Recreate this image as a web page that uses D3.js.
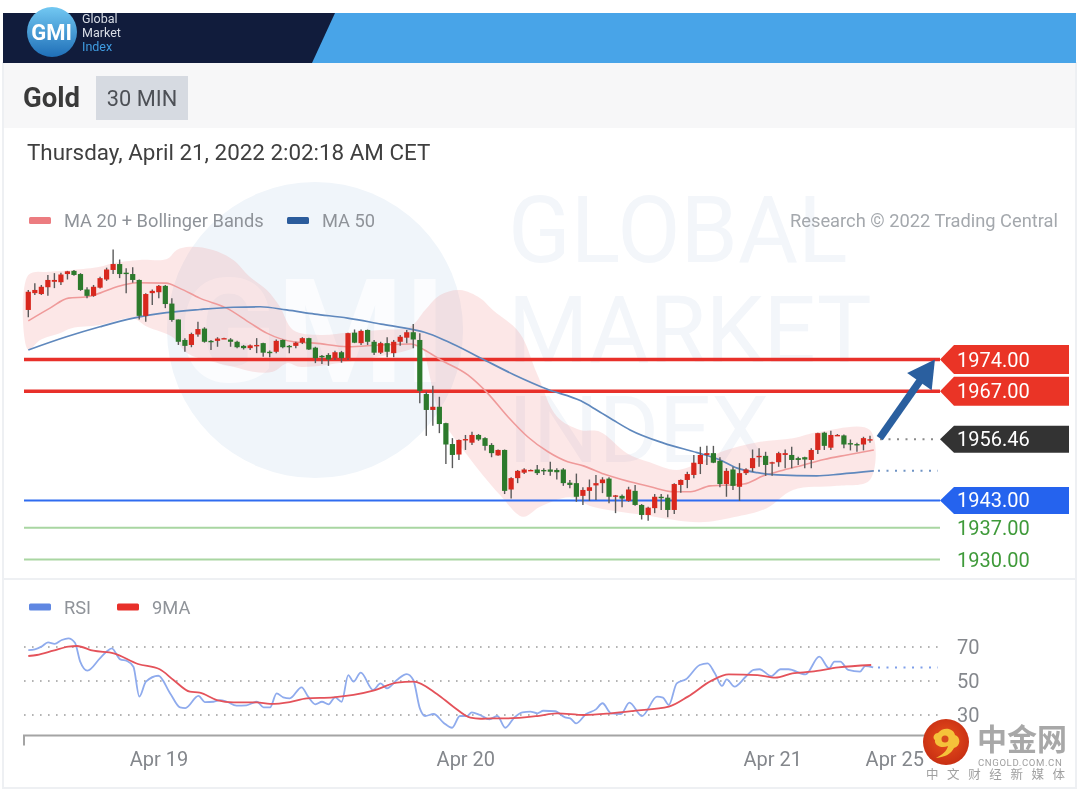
<!DOCTYPE html>
<html><head><meta charset="utf-8">
<script src="https://cdn.jsdelivr.net/npm/d3@7/dist/d3.min.js"></script>
<style>
html,body{margin:0;padding:0;background:#fff;}
svg{display:block;filter:blur(0.6px);font-family:Roboto,"Liberation Sans",sans-serif;}
</style></head><body>
<svg id="c" width="1080" height="792"></svg>
<script>
// ---------- data ----------
const title="Gold", frame="30 MIN", stamp="Thursday, April 21, 2022 2:02:18 AM CET";
const opens=[1984.9,1988.6,1988.4,1989.9,1991.1,1991.0,1992.8,1993.5,1992.8,1989.4,
1988.0,1989.8,1991.6,1993.7,1995.0,1993.1,1992.8,1991.5,1983.6,1988.6,
1988.8,1990.2,1986.3,1982.8,1978.3,1977.2,1979.5,1980.8,1978.1,1978.1,
1978.7,1978.4,1977.9,1977.0,1976.5,1977.2,1977.6,1975.7,1975.7,1978.3,
1977.0,1977.0,1977.7,1978.7,1976.6,1974.8,1975.0,1974.3,1975.6,1974.3,
1979.9,1977.6,1980.5,1977.9,1975.5,1977.6,1975.4,1977.9,1978.8,1980.0,
1978.3,1966.4,1962.9,1963.6,1960.0,1955.4,1953.1,1956.4,1955.7,1957.4,
1956.7,1955.2,1952.9,1954.1,1945.4,1947.9,1949.1,1949.7,1949.8,1949.7,
1949.8,1949.7,1949.8,1946.9,1946.8,1944.0,1945.1,1946.3,1946.8,1947.8,
1944.0,1944.0,1942.9,1945.1,1942.0,1939.8,1941.3,1943.8,1943.6,1940.9,
1946.4,1947.5,1948.6,1951.0,1953.0,1953.4,1951.7,1946.6,1949.8,1946.0,
1949.0,1950.1,1952.5,1952.8,1951.3,1951.4,1953.0,1953.0,1952.3,1952.5,
1951.9,1954.1,1957.9,1954.6,1957.4,1957.3,1955.6,1955.4,1955.3,1956.4];
const highs=[1989.3,1990.8,1990.4,1992.6,1993.0,1993.1,1993.5,1993.7,1993.0,1989.9,
1990.4,1992.2,1994.2,1998.2,1996.0,1994.1,1994.3,1991.6,1988.6,1989.4,
1990.4,1990.4,1987.5,1982.8,1978.7,1979.9,1982.3,1981.1,1978.3,1978.9,
1978.8,1978.7,1978.1,1977.2,1977.3,1978.7,1977.7,1976.0,1978.4,1978.4,
1977.2,1977.9,1978.9,1978.8,1976.8,1975.0,1975.4,1975.9,1975.9,1979.9,
1980.6,1980.6,1980.6,1978.3,1977.9,1978.9,1978.3,1979.4,1980.5,1981.8,
1979.8,1966.9,1968.2,1965.8,1960.1,1956.7,1956.4,1957.4,1958.1,1957.6,
1956.9,1955.6,1954.2,1954.2,1948.1,1949.7,1950.1,1949.8,1950.8,1950.1,
1951.5,1950.1,1950.1,1947.5,1948.9,1945.9,1947.6,1948.6,1948.1,1948.1,
1944.2,1944.3,1946.0,1946.4,1942.2,1941.6,1944.4,1944.4,1944.3,1946.8,
1947.6,1949.3,1953.0,1954.8,1955.0,1955.0,1952.5,1950.1,1950.4,1951.2,
1950.1,1954.2,1954.5,1953.7,1951.5,1953.7,1954.2,1954.8,1952.6,1952.6,
1954.5,1957.9,1958.1,1958.3,1957.6,1957.5,1956.4,1955.7,1957.0,1957.2];
const lows=[1983.3,1988.2,1988.2,1988.0,1989.7,1990.4,1991.6,1992.4,1989.1,1987.5,
1987.8,1989.6,1991.3,1992.8,1991.9,1988.6,1990.9,1982.8,1982.3,1986.0,
1987.5,1985.3,1982.3,1977.2,1975.7,1976.7,1979.0,1977.7,1976.1,1976.8,
1978.6,1976.8,1976.5,1976.2,1976.1,1975.4,1974.6,1974.5,1975.4,1976.5,
1975.4,1976.5,1977.4,1976.1,1973.2,1973.0,1972.6,1973.9,1973.3,1973.9,
1977.6,1977.2,1977.2,1975.0,1975.2,1974.5,1974.5,1977.0,1977.6,1976.5,
1964.4,1957.2,1959.4,1957.8,1951.0,1950.1,1951.9,1954.1,1955.2,1956.1,
1954.0,1952.5,1952.8,1944.4,1943.4,1946.8,1948.8,1949.6,1948.6,1948.6,
1948.4,1947.6,1946.2,1945.7,1942.7,1942.0,1942.9,1943.1,1944.6,1942.4,
1940.2,1941.5,1942.7,1941.8,1938.8,1938.5,1940.2,1940.9,1939.3,1940.0,
1944.7,1945.7,1947.9,1948.8,1950.8,1951.2,1945.9,1943.8,1945.3,1942.9,
1948.6,1949.3,1950.4,1948.4,1948.4,1950.4,1950.1,1950.1,1950.8,1950.1,
1950.1,1953.2,1954.1,1954.1,1957.2,1954.5,1954.0,1953.7,1954.0,1955.7];
const closes=[1988.9,1989.3,1990.0,1991.5,1991.5,1992.7,1993.4,1992.6,1989.3,1988.0,
1990.0,1991.9,1993.8,1995.0,1992.8,1993.0,1991.5,1983.6,1988.4,1989.1,
1990.2,1986.2,1982.7,1977.9,1977.0,1979.6,1980.7,1977.9,1977.9,1978.6,
1978.7,1977.9,1976.7,1976.5,1977.1,1977.2,1975.5,1975.4,1978.1,1976.7,
1976.9,1977.7,1978.7,1976.2,1974.3,1974.5,1974.0,1975.6,1974.3,1979.8,
1977.7,1980.3,1977.9,1975.5,1977.6,1975.7,1977.9,1979.0,1980.0,1978.4,
1967.1,1962.9,1963.6,1959.8,1955.3,1953.0,1956.3,1956.5,1957.4,1956.4,
1955.0,1953.4,1954.1,1945.1,1947.9,1949.5,1949.8,1949.7,1949.0,1949.6,
1949.3,1949.2,1946.8,1946.4,1943.8,1945.3,1945.9,1946.8,1947.6,1943.8,
1944.1,1943.4,1945.4,1942.0,1939.8,1941.4,1943.8,1943.6,1940.9,1946.6,
1947.5,1948.8,1951.3,1953.0,1953.4,1951.3,1946.6,1949.5,1946.2,1949.0,
1949.8,1952.3,1952.8,1950.8,1951.4,1953.4,1953.4,1951.9,1951.9,1952.0,
1954.1,1957.8,1955.0,1957.4,1957.4,1955.3,1955.5,1955.3,1956.7,1956.46];

const ma20Idx=[0,3.3,6.1,8.9,10.9,13.5,16.5,21,23,26.1,30.2,33.8,36.3,40.4,43.6,48.6,53.7,58.3,60.3,62.8,66.9,69.9,73,76,79.1,82.1,84.5,87.6,91.6,94.7,98.2,100.8,103.8,106.8,108.9,111.9,115,118,121.1,124.6,128.7];
const ma20Val=[1982.5,1985.3,1987.5,1987.8,1988.6,1990.0,1990.9,1990.8,1989.7,1987.5,1985.3,1982.0,1979.8,1977.9,1977.6,1976.8,1977.2,1977.4,1976.1,1973.9,1970.6,1966.6,1961.4,1957.0,1953.7,1951.5,1950.6,1948.8,1947.1,1946.0,1944.9,1944.9,1946.2,1946.4,1946.6,1948.4,1949.7,1950.8,1952.0,1953.0,1954.1];
const ma50Idx=[0,5.8,10.9,16,21,26.1,31.2,35.3,39.3,43.6,48.6,53.7,58.8,60.3,63.9,68.9,74,79.1,84.1,86.5,89,91.6,96.7,101.8,105.3,107.9,111,114,120,123.6,128.7];
const ma50Val=[1976.1,1979.0,1981.2,1983.1,1984.3,1985.0,1985.5,1985.6,1984.9,1984.0,1983.1,1981.8,1980.5,1980.0,1977.9,1974.3,1970.6,1967.4,1964.9,1962.9,1960.7,1958.5,1955.6,1953.5,1951.9,1950.1,1949.1,1948.6,1948.4,1948.8,1949.5];
const upperIdx=[0,3.3,6.8,10.9,12.9,17,21.1,22.6,24.6,28.1,31.2,33.7,36.3,38.3,40.3,44.4,49,53.5,58.1,60.4,62.7,65.7,68.8,70.7,74.8,77.4,80.5,84,87,91.1,94.6,98.7,102.2,105.3,111.4,116.4,120.5,128.1];
const upperVal=[1992.6,1993.3,1993.7,1994.4,1995.2,1995.9,1996.1,1998.1,1998.8,1998.1,1995.9,1992.2,1989.3,1985.6,1980.5,1979.4,1980.0,1980.5,1981.2,1984.9,1988.2,1989.3,1987.5,1984.9,1979.8,1971.0,1961.4,1958.5,1958.1,1953.4,1951.4,1949.7,1951.4,1953.6,1955.9,1956.7,1958.1,1958.5];
const lowerIdx=[0,1.8,4.8,6.6,10.9,15.9,18.1,22,24.2,28.1,31.2,34.2,37.2,39.4,41.3,48.5,58.6,59.6,62.7,66.8,71.8,75.3,77.9,82.5,85.9,93.6,102.2,107.3,112.4,116.4,123.1,128.1];
const lowerVal=[1976.1,1978.3,1979.8,1980.9,1981.6,1983.1,1981.2,1978.9,1975.4,1973.5,1972.4,1971.3,1971.3,1973.2,1972.4,1973.5,1976.5,1977.6,1961.8,1953.0,1944.2,1939.4,1941.6,1943.7,1941.6,1939.8,1938.2,1939.3,1941.3,1945.3,1946.2,1947.5];

const rsiIdx=[0,1,2,3,4,5.1,6.1,7.1,7.9,9,10.9,11.9,12.7,14,15,16,16.9,17.9,19.8,21.6,23.1,23.9,25.9,26.9,28.2,29.2,30.2,31.7,33.2,34.8,35.8,36.8,37.8,38.8,39.8,41.6,42.6,43.7,44.7,45.7,46.7,47.7,48.7,49.5,50.6,52.5,53.6,54.6,56.1,57.6,58.6,59.6,60.4,61.7,63.2,64.5,65.7,66.8,67.5,68.75,70.2,71.4,72.6,74,75.2,76.4,77.5,78.4,80.2,81.7,82.5,83.4,84.9,86.4,87.4,88.7,90.2,91.5,93.4,95.7,96.6,97.5,98.7,100.1,102.2,103.4,104.5,105.6,106.3,107.5,109.2,110.4,111.3,113.1,114.5,115.7,118.3,120.4,121.9,122.7,123.6,124.8,126.6,127.4,128.6];
const rsiVal=[68.2,68.6,70.2,72.7,71.8,74.1,75.1,72.5,61.4,56.1,63.3,67.2,69.2,62.7,61.8,58.4,40.8,49.6,53.1,42.7,34.5,34.1,41.2,37.6,37.8,38.8,37.8,35.5,35.7,37.8,34.5,34.5,42.7,40.4,39.8,46.3,40.8,36.3,37.8,36.3,40.4,37.8,53.5,49.6,54.9,44.7,48.6,45.7,50.6,54.1,50.6,33.9,29.4,30.6,25.5,22.5,29.4,29.4,31.6,30.0,27.5,29.4,22.5,28.6,31.6,32.0,31.0,32.5,32.2,28.6,28.0,25.1,30.6,33.3,36.9,31.0,30.6,37.3,29.4,40.8,40.2,35.9,48.6,51.0,59.4,60.4,54.5,47.1,51.0,46.7,52.5,56.5,56.9,52.9,56.9,56.9,53.9,64.3,57.5,61.4,61.4,56.5,55.5,58.8,58.0];
const ma9Idx=[0,1.3,3.8,6.1,7.4,9.9,13,16.7,20,22.1,24.6,26.1,28.7,31.2,34.8,36.8,39.8,42.4,46.4,49.5,52.5,56.1,58.6,62.2,64.7,67.3,68.8,70.5,72.9,77.5,80.5,84.6,88.7,92.2,97.5,100.4,104,106.6,111,113.7,116.3,119.2,123.3,128.3];
const ma9Val=[64.7,65.3,67.8,70.2,70.6,67.8,66.3,60.0,56.9,50.6,43.7,43.1,38.8,37.4,37.4,36.5,37.6,39.8,40.4,41.8,44.3,49.0,49.6,42.4,34.9,28.4,27.8,28.0,28.0,29.4,31.0,30.0,31.0,32.4,34.9,40.8,50.2,53.9,53.5,52.0,54.5,55.5,58.0,59.4];

const levelsRed=[1974,1967], levelBlue=[1943], levelsGreen=[1937,1930], lastPrice=1956.46, lastMa50=1949.5, lastRsi=58;
const rsiTicks=[70,50,30];
const dateLabels=["Apr 19","Apr 20","Apr 21","Apr 25"], dateIdx=[19.9,66.6,113.3,131.9];
const arrowFrom=[129.6,1956.7], arrowTo=[138,1974];

// ---------- scales ----------
const svg=d3.select("#c");
const x=d3.scaleLinear().domain([0,129]).range([28.3,875.8]);   // overlays, read against the time axis
const xc=d3.scaleLinear().domain([0,129]).range([28.3,870]);    // candle slots
const y=d3.scaleLinear().domain([1930,1974]).range([559.5,359.5]);
const r=d3.scaleLinear().domain([30,70]).range([715,647]);
const xEnd=940, xStart=24;
const GREY="#8f9399";

// ---------- frame ----------
svg.append("rect").attr("x",3).attr("y",63).attr("width",1073).attr("height",725).attr("fill","#fff").attr("stroke","#eef0f3").attr("stroke-width",2);
svg.append("rect").attr("x",3).attr("y",13).attr("width",1073).attr("height",50).attr("fill","#48a4e8");
svg.append("path").attr("d","M3,13H335L312,63H3Z").attr("fill","#111c3c");
svg.append("rect").attr("x",4).attr("y",63).attr("width",1071).attr("height",65).attr("fill","#f7f7f8");
svg.append("rect").attr("x",96).attr("y",76).attr("width",92).attr("height",44).attr("fill","#d6dae1");
svg.append("text").attr("x",23).attr("y",107).attr("font-size",27.5).attr("font-weight",700).attr("fill","#3a3a3a").text(title);
svg.append("text").attr("x",142).attr("y",105.5).attr("text-anchor","middle").attr("font-size",21.8).attr("fill","#4d5056").text(frame);
svg.append("text").attr("x",27).attr("y",160).attr("font-size",22.4).attr("fill","#3f3f3f").text(stamp);
svg.append("rect").attr("x",4).attr("y",578).attr("width",1071).attr("height",2).attr("fill","#eef0f3");

// logo
const defs=svg.append("defs");
const lg=defs.append("linearGradient").attr("id","gmi").attr("x1",0).attr("y1",0).attr("x2",0).attr("y2",1);
lg.append("stop").attr("offset",0).attr("stop-color","#72c8f2");
lg.append("stop").attr("offset",1).attr("stop-color","#1f6fb8");
svg.append("circle").attr("cx",52).attr("cy",32).attr("r",25).attr("fill","url(#gmi)");
svg.append("text").attr("x",51.5).attr("y",39.5).attr("text-anchor","middle").attr("font-size",22).attr("font-weight",700).attr("fill","#fff").text("GMI");
[["Global",23,"#d8dde6"],["Market",37,"#d8dde6"],["Index",51,"#3f9be0"]].forEach(d=>
  svg.append("text").attr("x",82).attr("y",d[1]).attr("font-size",12.5).attr("fill",d[2]).text(d[0]));

// watermark
svg.append("circle").attr("cx",315).attr("cy",330).attr("r",148).attr("fill","#f0f5fa");
svg.append("text").attr("x",312).attr("y",382).attr("text-anchor","middle").attr("font-size",145).attr("font-weight",700).attr("fill","#fbfcfe").text("GMI");
[["GLOBAL",262],["MARKET",362],["INDEX",462]].forEach(d=>
  svg.append("text").attr("x",508).attr("y",d[1]).attr("font-size",92).attr("fill","#f3f6fa").text(d[0]));

// legends
function legend(px,py,col,label,tx){
  svg.append("rect").attr("x",px).attr("y",py-3.5).attr("width",22).attr("height",7).attr("rx",1.5).attr("fill",col);
  svg.append("text").attr("x",tx).attr("y",py+6.5).attr("font-size",18.3).attr("fill",GREY).text(label);
}
legend(29,220.5,"#ec7c80","MA 20 + Bollinger Bands",64);
legend(287,220.5,"#2b5c9c","MA 50",322);
svg.append("text").attr("x",1058).attr("y",227).attr("text-anchor","end").attr("font-size",18.3).attr("fill","#a4a8ad").text("Research © 2022 Trading Central");
legend(29,607,"#5f87e2","RSI",64);
legend(117,607,"#e8302a","9MA",152);

// bands
const bandPts=upperIdx.map((d,i)=>[x(d),y(upperVal[i])]).concat(lowerIdx.map((d,i)=>[x(d),y(lowerVal[i])]).reverse());
svg.append("path").attr("d",d3.line().curve(d3.curveCatmullRomClosed.alpha(.5))(bandPts)).attr("fill","#ee8080").attr("fill-opacity",.19);

const lineP=(xs,ys,sy)=>d3.line().curve(d3.curveMonotoneX)(xs.map((d,i)=>[x(d),sy(ys[i])]));

// level lines (under candles)
levelsRed.forEach(v=>svg.append("line").attr("x1",xStart).attr("x2",xEnd).attr("y1",y(v)).attr("y2",y(v)).attr("stroke","#e8302a").attr("stroke-width",3.4));
levelBlue.forEach(v=>svg.append("line").attr("x1",xStart).attr("x2",xEnd).attr("y1",y(v)).attr("y2",y(v)).attr("stroke","#2f6cf0").attr("stroke-width",2));
levelsGreen.forEach(v=>svg.append("line").attr("x1",xStart).attr("x2",xEnd).attr("y1",y(v)).attr("y2",y(v)).attr("stroke","#a9d6a2").attr("stroke-width",2));

// MA lines
svg.append("path").attr("d",lineP(ma20Idx,ma20Val,y)).attr("fill","none").attr("stroke","#ef9a9a").attr("stroke-width",1.6);
svg.append("path").attr("d",lineP(ma50Idx,ma50Val,y)).attr("fill","none").attr("stroke","#5f88bd").attr("stroke-width",1.7);

// candles
const idx=d3.range(opens.length);
svg.append("g").selectAll("line").data(idx).join("line")
  .attr("x1",i=>xc(i)).attr("x2",i=>xc(i)).attr("y1",i=>y(highs[i])).attr("y2",i=>y(lows[i]))
  .attr("stroke","#5a5a5a").attr("stroke-width",1.4);
svg.append("g").selectAll("rect").data(idx).join("rect")
  .attr("x",i=>xc(i)-2.6).attr("width",5.2)
  .attr("y",i=>y(Math.max(opens[i],closes[i])))
  .attr("height",i=>Math.max(1.4,Math.abs(y(opens[i])-y(closes[i]))))
  .attr("fill",i=>closes[i]>=opens[i]?"#d8281e":"#2c7a2c");

// dotted extensions
function dots(v,sy,col,from,dash){
  svg.append("line").attr("x1",from).attr("x2",xEnd-2).attr("y1",sy(v)).attr("y2",sy(v))
    .attr("stroke",col).attr("stroke-width",2).attr("stroke-dasharray",dash).attr("stroke-linecap","butt");
}
dots(lastPrice,y,"#8a8a8a",880,"2 6.5");
dots(lastMa50,y,"#6f93c4",878,"2 6.5");

// arrow
const ax0=x(arrowFrom[0]),ay0=y(arrowFrom[1]),ax1=x(arrowTo[0]),ay1=y(arrowTo[1]);
const ang=Math.atan2(ay1-ay0,ax1-ax0),len=Math.hypot(ax1-ax0,ay1-ay0);
const ag=svg.append("g").attr("transform",`translate(${ax0},${ay0}) rotate(${ang*180/Math.PI})`);
ag.append("line").attr("x1",0).attr("x2",len-20).attr("y1",0).attr("y2",0).attr("stroke","#2a5f9f").attr("stroke-width",7.5);
ag.append("path").attr("d",`M${len},0L${len-27},-15L${len-27},15Z`).attr("fill","#2a5f9f");

// tags
function tag(v,col,h){
  const c=y(v),t=c-h/2,b=c+h/2;
  svg.append("path").attr("d",`M${xEnd},${c}L${xEnd+14},${t}H1069V${b}H${xEnd+14}Z`).attr("fill",col);
  svg.append("text").attr("x",957).attr("y",c+7).attr("font-size",20).attr("fill","#fff").text(v.toFixed(2));
}
levelsRed.forEach(v=>tag(v,"#ea3426",29));
tag(lastPrice,"#333333",27);
levelBlue.forEach(v=>tag(v,"#2563ee",27));
levelsGreen.forEach(v=>svg.append("text").attr("x",957).attr("y",y(v)+7).attr("font-size",20).attr("fill","#3f9a3a").text(v.toFixed(2)));

// RSI pane
rsiTicks.forEach(v=>{
  svg.append("line").attr("x1",xStart).attr("x2",xEnd).attr("y1",r(v)).attr("y2",r(v)).attr("stroke","#b4b4b4").attr("stroke-width",1.8).attr("stroke-dasharray","1.6 6.4");
  svg.append("text").attr("x",957).attr("y",r(v)+7).attr("font-size",20).attr("fill","#85888d").text(v);
});
dots(lastRsi,r,"#7f9fea",878,"2 6.5");
svg.append("path").attr("d",lineP(rsiIdx,rsiVal,r)).attr("fill","none").attr("stroke","#8fabed").attr("stroke-width",1.8);
svg.append("path").attr("d",lineP(ma9Idx,ma9Val,r)).attr("fill","none").attr("stroke","#e4525a").attr("stroke-width",1.8);

// time axis
const axisG=svg.append("g").attr("transform","translate(0,735.5)");
axisG.append("path").attr("d",`M${xStart},10V0H930`).attr("fill","none").attr("stroke","#a4a4a4").attr("stroke-width",2);
dateLabels.forEach((l,i)=>svg.append("text").attr("x",x(dateIdx[i])).attr("y",766).attr("text-anchor","middle").attr("font-size",20).attr("fill","#84878c").text(l));

// cngold stamp
const rg=defs.append("radialGradient").attr("id","cg").attr("cx",.5).attr("cy",.45).attr("r",.6);
rg.append("stop").attr("offset",0).attr("stop-color","#e8501c");
rg.append("stop").attr("offset",1).attr("stop-color","#c52c12");
svg.append("circle").attr("cx",946).attr("cy",742).attr("r",23).attr("fill","url(#cg)");
svg.append("path").attr("d","M938,733C943,726 954,728 955,735C961,737 961,746 954,748C951,754 945,757 936,758C942,755 947,751 948,746C941,749 934,745 935,740C932,738 934,733 938,733Z").attr("fill","#f5c23a");
svg.append("circle").attr("cx",945).attr("cy",739).attr("r",3.5).attr("fill","#d84a1c");
svg.append("text").attr("x",977).attr("y",750).attr("font-family","'Noto Sans CJK SC'").attr("font-weight",700).attr("font-size",30).attr("fill","#a8a8a8").text("中金网");
svg.append("text").attr("x",978).attr("y",765.5).attr("font-size",9.6).attr("letter-spacing",.6).attr("fill","#a0a0a0").text("CNGOLD.COM.CN");
svg.append("text").attr("x",926).attr("y",778.5).attr("font-family","'Noto Sans CJK SC'").attr("font-size",12.5).attr("letter-spacing",8.6).attr("fill","#a0a0a0").text("中文财经新媒体");
</script></body></html>
